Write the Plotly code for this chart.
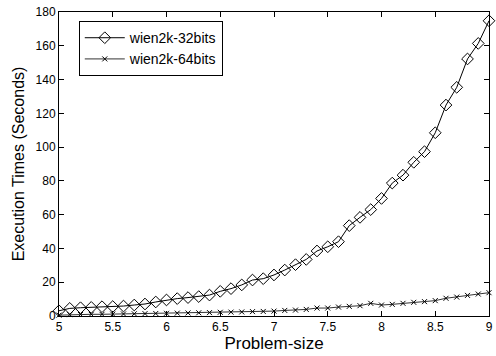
import plotly.graph_objects as go

problem_size = [round(5 + 0.1 * i, 1) for i in range(41)]

wien2k_32 = [3.1, 4.5, 4.9, 5.1, 5.5, 5.6, 5.9, 6.5, 7.1, 8.3, 9.5, 10.3, 10.9, 11.5, 12.4,
             14.6, 16.2, 18.4, 21.3, 22.1, 24.3, 27.2, 30.4, 33.5, 38.5, 41.0, 44.0, 53.5,
             58.4, 63.0, 69.6, 78.7, 83.4, 91.0, 97.3, 108.5, 124.9, 135.4, 152.2, 161.4, 174.8]

wien2k_64 = [0.5, 0.8, 0.9, 1.0, 1.0, 1.1, 1.2, 1.3, 1.4, 1.5, 1.6, 1.7, 1.8, 1.9, 2.0,
             2.2, 2.3, 2.4, 2.6, 2.7, 2.9, 3.3, 3.5, 3.9, 4.7, 4.7, 5.3, 5.7,
             6.1, 7.5, 6.5, 6.9, 7.5, 8.1, 8.5, 9.1, 10.5, 11.2, 12.2, 13.0, 13.8]

x_ticks = [5, 5.5, 6, 6.5, 7, 7.5, 8, 8.5, 9]
x_tick_labels = ["5", "5.5", "6", "6.5", "7", "7.5", "8", "8.5", "9"]
y_ticks = [0, 20, 40, 60, 80, 100, 120, 140, 160, 180]

fig = go.Figure()
fig.add_trace(go.Scatter(
    x=problem_size, y=wien2k_32, name="wien2k-32bits", mode="lines+markers",
    line=dict(color="black", width=1),
    marker=dict(symbol="diamond-open", size=9, color="black", line=dict(width=1)),
    cliponaxis=False,
))
fig.add_trace(go.Scatter(
    x=problem_size, y=wien2k_64, name="wien2k-64bits", mode="lines+markers",
    line=dict(color="#333333", width=1),
    marker=dict(symbol="x-thin-open", size=5, color="black", line=dict(width=1, color="black")),
    cliponaxis=False,
))

axis_common = dict(
    showline=True, linecolor="black", linewidth=1, mirror="ticks",
    ticks="inside", ticklen=5, tickcolor="black", showgrid=False, zeroline=False,
    ticklabeloverflow="allow",
    tickfont=dict(family="Liberation Sans, Arial", size=12, color="black"),
)

fig.update_layout(
    width=496, height=356,
    margin=dict(l=59, r=3, t=12, b=40),
    paper_bgcolor="white", plot_bgcolor="white",
    font=dict(family="Liberation Sans, Arial", color="black"),
    xaxis=dict(range=[5, 9], tickvals=x_ticks, ticktext=x_tick_labels,
               title=dict(text="Problem-size", font=dict(size=17), standoff=2), **axis_common),
    yaxis=dict(range=[0, 180], tickvals=y_ticks,
               title=dict(text="Execution Times (Seconds)", font=dict(size=16), standoff=6), **axis_common),
    legend=dict(x=0.046, y=0.97, xanchor="left", yanchor="top",
                bordercolor="black", borderwidth=1, bgcolor="white",
                font=dict(size=14, family="Liberation Sans, Arial"),
                itemwidth=40, tracegroupgap=0),
    showlegend=True,
)

fig.write_html("out.html", config={"displayModeBar": False},
               post_script="document.body.style.margin='0';document.body.style.overflow='hidden';")
